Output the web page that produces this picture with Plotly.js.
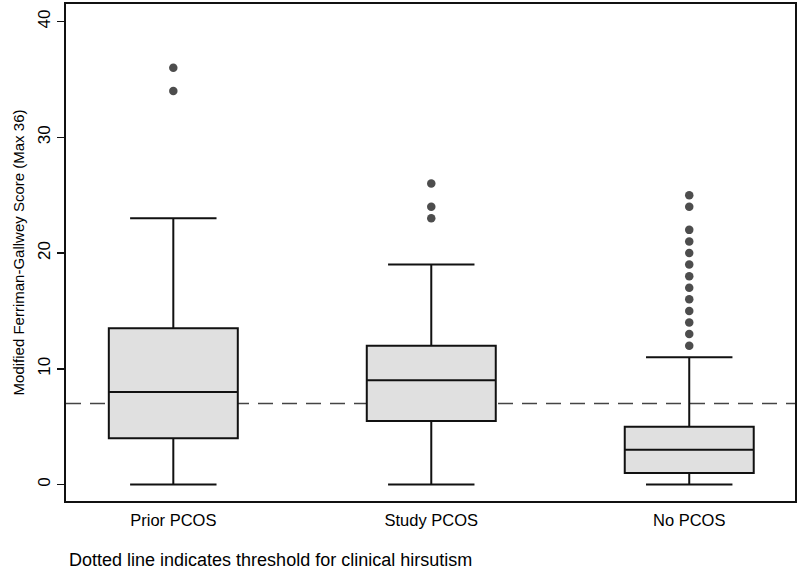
<!DOCTYPE html>
<html>
<head>
<meta charset="utf-8">
<script src="https://cdn.plot.ly/plotly-3.0.1.min.js"></script>
<style>
  html, body { margin: 0; padding: 0; background: #fff; }
  #chart { width: 800px; height: 569px; }
</style>
</head>
<body>
<div id="chart"></div>
<script>
// Data
var groups = ['Prior PCOS', 'Study PCOS', 'No PCOS'];
var lowerWhisker = [0, 0, 0];
var q1 = [4, 5.5, 1];
var median = [8, 9, 3];
var q3 = [13.5, 12, 5];
var upperWhisker = [23, 19, 11];
var outliersPrior = [34, 36];
var outliersStudy = [23, 24, 26];
var outliersNo = [12, 13, 14, 15, 16, 17, 18, 19, 20, 21, 22, 24, 25];
var threshold = 7;
var yTicks = [0, 10, 20, 30, 40];

var outX = [], outY = [];
[outliersPrior, outliersStudy, outliersNo].forEach(function (arr, i) {
  arr.forEach(function (v) { outX.push(groups[i]); outY.push(v); });
});

var font = 'Liberation Sans, Arial, sans-serif';

var traces = [
  {
    type: 'box',
    x: groups,
    q1: q1,
    median: median,
    q3: q3,
    lowerfence: lowerWhisker,
    upperfence: upperWhisker,
    boxpoints: false,
    width: 0.5,
    whiskerwidth: 0.67,
    fillcolor: '#e0e0e0',
    line: { color: '#111', width: 2 },
    hoverinfo: 'skip',
    showlegend: false
  },
  {
    type: 'scatter',
    mode: 'markers',
    x: outX,
    y: outY,
    marker: { color: '#4d4d4d', size: 8.5 },
    hoverinfo: 'skip',
    showlegend: false
  }
];

var layout = {
  width: 800,
  height: 569,
  margin: { l: 66, r: 5, t: 3.5, b: 67.5 },
  paper_bgcolor: '#fff',
  plot_bgcolor: '#fff',
  showlegend: false,
  font: { family: font, color: '#000' },
  xaxis: {
    type: 'category',
    categoryorder: 'array',
    categoryarray: groups,
    range: [-0.416, 2.41],
    showline: true,
    mirror: true,
    linecolor: '#111',
    linewidth: 2,
    showgrid: false,
    zeroline: false,
    ticks: '',
    tickfont: { family: font, size: 16.5, color: '#000' },
    ticklabelstandoff: 3
  },
  yaxis: {
    range: [-1.42, 41.51],
    tickvals: yTicks,
    ticktext: yTicks.map(String),
    tickangle: -90,
    showline: true,
    mirror: true,
    linecolor: '#111',
    linewidth: 2,
    showgrid: false,
    zeroline: false,
    ticks: 'outside',
    ticklen: 7,
    tickwidth: 1.5,
    tickcolor: '#111',
    tickfont: { family: font, size: 17, color: '#000' },
    title: {
      text: 'Modified Ferriman-Gallwey Score (Max 36)',
      font: { family: font, size: 15, color: '#000' },
      standoff: 7
    }
  },
  shapes: [
    {
      type: 'line',
      xref: 'paper',
      x0: 0,
      x1: 1,
      yref: 'y',
      y0: threshold,
      y1: threshold,
      layer: 'below',
      line: { color: '#444', width: 1.5, dash: '15px,9px' }
    }
  ],
  annotations: [
    {
      xref: 'paper',
      yref: 'paper',
      x: 0.002,
      y: -0.119,
      xanchor: 'left',
      yanchor: 'middle',
      showarrow: false,
      text: 'Dotted line indicates threshold for clinical hirsutism',
      font: { family: font, size: 18, color: '#000' }
    }
  ]
};

Plotly.newPlot('chart', traces, layout, { staticPlot: true, displayModeBar: false });
</script>
</body>
</html>
